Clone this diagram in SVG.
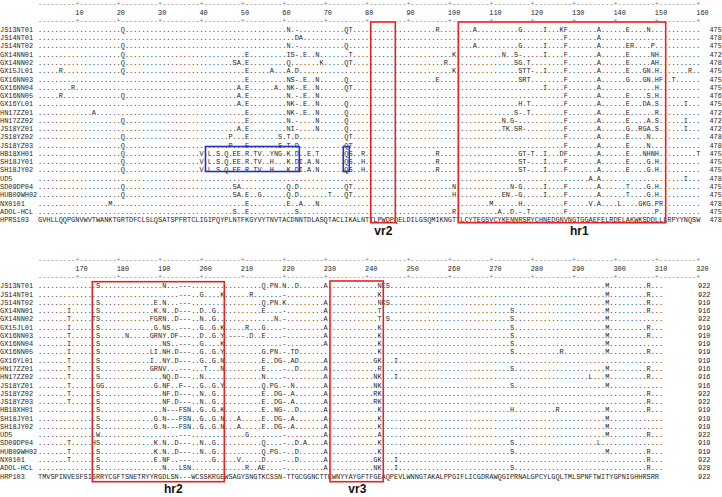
<svg xmlns="http://www.w3.org/2000/svg" width="722" height="497" viewBox="0 0 722 497">
<style>
.t{font-family:"Liberation Mono","DejaVu Sans Mono",monospace;font-size:7.3px;fill:#1e1e1e}
.ru{fill:#808080}
.rb{fill:none;stroke:#e8231f;stroke-width:1.6}
.bb{fill:none;stroke:#2430c8;stroke-width:1.6}
.lab{font-family:"Liberation Sans",Arial,sans-serif;font-weight:bold;font-size:12px;fill:#111;text-anchor:middle}
</style>
<rect width="722" height="497" fill="#fff"/>
<g id="top-block" class="t" transform="translate(38 0) scale(0.94521 1)">
<g id="top-ruler">
<text class="ru" y="6.2"><tspan x="0">---------+</tspan><tspan x="43.8">---------+</tspan><tspan x="87.6">---------+</tspan><tspan x="131.4">---------+</tspan><tspan x="175.2">---------+</tspan><tspan x="219">---------+</tspan><tspan x="262.8">---------+</tspan><tspan x="306.6">---------+</tspan><tspan x="350.4">---------+</tspan><tspan x="394.2">---------+</tspan><tspan x="438">---------+</tspan><tspan x="481.8">---------+</tspan><tspan x="525.6">---------+</tspan><tspan x="569.4">---------+</tspan><tspan x="613.2">---------+</tspan><tspan x="657">---------+</tspan></text>
<text y="14.7"><tspan x="39.42">10</tspan><tspan x="83.22">20</tspan><tspan x="127.02">30</tspan><tspan x="170.82">40</tspan><tspan x="214.62">50</tspan><tspan x="258.42">60</tspan><tspan x="302.22">70</tspan><tspan x="346.02">80</tspan><tspan x="389.82">90</tspan><tspan x="433.62">100</tspan><tspan x="477.42">110</tspan><tspan x="521.22">120</tspan><tspan x="565.02">130</tspan><tspan x="608.82">140</tspan><tspan x="652.62">150</tspan><tspan x="696.42">160</tspan></text>
<text class="ru" y="23.2"><tspan x="0">---------+</tspan><tspan x="43.8">---------+</tspan><tspan x="87.6">---------+</tspan><tspan x="131.4">---------+</tspan><tspan x="175.2">---------+</tspan><tspan x="219">---------+</tspan><tspan x="262.8">---------+</tspan><tspan x="306.6">---------+</tspan><tspan x="350.4">---------+</tspan><tspan x="394.2">---------+</tspan><tspan x="438">---------+</tspan><tspan x="481.8">---------+</tspan><tspan x="525.6">---------+</tspan><tspan x="569.4">---------+</tspan><tspan x="613.2">---------+</tspan><tspan x="657">---------+</tspan></text>
</g>
<g id="top-JS13NT01"><text x="-40.2" y="31.9">JS13NT01</text><text y="31.9"><tspan x="0">..........</tspan><tspan x="43.8">..........</tspan><tspan x="87.6">Q.........</tspan><tspan x="131.4">..........</tspan><tspan x="175.2">..........</tspan><tspan x="219">..........</tspan><tspan x="262.8">N.-.......</tspan><tspan x="306.6">....QT....</tspan><tspan x="350.4">..........</tspan><tspan x="394.2">......R...</tspan><tspan x="438">.....A....</tspan><tspan x="481.8">......G...</tspan><tspan x="525.6">..I...KF..</tspan><tspan x="569.4">.....A....</tspan><tspan x="613.2">..E....N..</tspan><tspan x="657">..........</tspan></text><text x="710.42" y="31.9">475</text></g>
<g id="top-JS14NT01"><text x="-40.2" y="40.17">JS14NT01</text><text y="40.17"><tspan x="0">..........</tspan><tspan x="43.8">..........</tspan><tspan x="87.6">..........</tspan><tspan x="131.4">..........</tspan><tspan x="175.2">..........</tspan><tspan x="219">..........</tspan><tspan x="262.8">..DA......</tspan><tspan x="306.6">..........</tspan><tspan x="350.4">..........</tspan><tspan x="394.2">..........</tspan><tspan x="438">..........</tspan><tspan x="481.8">..........</tspan><tspan x="525.6">.......F..</tspan><tspan x="569.4">.....A....</tspan><tspan x="613.2">..........</tspan><tspan x="657">..........</tspan></text><text x="710.42" y="40.17">478</text></g>
<g id="top-JS14NT02"><text x="-40.2" y="48.44">JS14NT02</text><text y="48.44"><tspan x="0">..........</tspan><tspan x="43.8">..........</tspan><tspan x="87.6">Q.........</tspan><tspan x="131.4">..........</tspan><tspan x="175.2">..........</tspan><tspan x="219">..........</tspan><tspan x="262.8">N.-.......</tspan><tspan x="306.6">....Q.....</tspan><tspan x="350.4">..........</tspan><tspan x="394.2">..........</tspan><tspan x="438">.....A....</tspan><tspan x="481.8">......G...</tspan><tspan x="525.6">..I....F..</tspan><tspan x="569.4">.....A....</tspan><tspan x="613.2">..ER....P.</tspan><tspan x="657">..........</tspan></text><text x="710.42" y="48.44">475</text></g>
<g id="top-GX14NN01"><text x="-40.2" y="56.71">GX14NN01</text><text y="56.71"><tspan x="0">..........</tspan><tspan x="43.8">..........</tspan><tspan x="87.6">Q.........</tspan><tspan x="131.4">..........</tspan><tspan x="175.2">..........</tspan><tspan x="219">E.........</tspan><tspan x="262.8">IS-.E..N..</tspan><tspan x="306.6">.....T....</tspan><tspan x="350.4">..........</tspan><tspan x="394.2">..........</tspan><tspan x="438">K.........</tspan><tspan x="481.8">..N..S-...</tspan><tspan x="525.6">..I....F..</tspan><tspan x="569.4">.....A....</tspan><tspan x="613.2">..E.....NH</tspan><tspan x="657">..........</tspan></text><text x="710.42" y="56.71">472</text></g>
<g id="top-GX14NN02"><text x="-40.2" y="64.98">GX14NN02</text><text y="64.98"><tspan x="0">..........</tspan><tspan x="43.8">..........</tspan><tspan x="87.6">Q.........</tspan><tspan x="131.4">..........</tspan><tspan x="175.2">.......SA.</tspan><tspan x="219">E.........</tspan><tspan x="262.8">Q.......K.</tspan><tspan x="306.6">....QT....</tspan><tspan x="350.4">..........</tspan><tspan x="394.2">........R.</tspan><tspan x="438">..........</tspan><tspan x="481.8">.....SG.T.</tspan><tspan x="525.6">.......F..</tspan><tspan x="569.4">.....A....</tspan><tspan x="613.2">..E.....AH</tspan><tspan x="657">..........</tspan></text><text x="710.42" y="64.98">478</text></g>
<g id="top-GX15JL01"><text x="-40.2" y="73.25">GX15JL01</text><text y="73.25"><tspan x="0">.....R....</tspan><tspan x="43.8">..........</tspan><tspan x="87.6">Q.........</tspan><tspan x="131.4">..........</tspan><tspan x="175.2">..........</tspan><tspan x="219">E.....A...</tspan><tspan x="262.8">A.D.......</tspan><tspan x="306.6">..........</tspan><tspan x="350.4">..........</tspan><tspan x="394.2">..........</tspan><tspan x="438">K.........</tspan><tspan x="481.8">......STT-</tspan><tspan x="525.6">..I....F..</tspan><tspan x="569.4">.....A....</tspan><tspan x="613.2">..E...GN.H</tspan><tspan x="657">.......R..</tspan></text><text x="710.42" y="73.25">475</text></g>
<g id="top-GX16NN03"><text x="-40.2" y="81.52">GX16NN03</text><text y="81.52"><tspan x="0">..........</tspan><tspan x="43.8">..........</tspan><tspan x="87.6">..........</tspan><tspan x="131.4">..........</tspan><tspan x="175.2">..........</tspan><tspan x="219">E.........</tspan><tspan x="262.8">NS-.E..N..</tspan><tspan x="306.6">....Q.....</tspan><tspan x="350.4">..........</tspan><tspan x="394.2">......E...</tspan><tspan x="438">..........</tspan><tspan x="481.8">......SRT.</tspan><tspan x="525.6">.......F..</tspan><tspan x="569.4">.....A....</tspan><tspan x="613.2">..G...GN.H</tspan><tspan x="657">F..T......</tspan></text><text x="710.42" y="81.52">475</text></g>
<g id="top-GX16NN04"><text x="-40.2" y="89.79">GX16NN04</text><text y="89.79"><tspan x="0">........R.</tspan><tspan x="43.8">..........</tspan><tspan x="87.6">..........</tspan><tspan x="131.4">..........</tspan><tspan x="175.2">........A.</tspan><tspan x="219">E......A..</tspan><tspan x="262.8">NK-.E..N..</tspan><tspan x="306.6">....QT....</tspan><tspan x="350.4">..........</tspan><tspan x="394.2">..........</tspan><tspan x="438">..........</tspan><tspan x="481.8">..........</tspan><tspan x="525.6">..I....F..</tspan><tspan x="569.4">.....A....</tspan><tspan x="613.2">.........H</tspan><tspan x="657">..........</tspan></text><text x="710.42" y="89.79">475</text></g>
<g id="top-GX16NN05"><text x="-40.2" y="98.06">GX16NN05</text><text y="98.06"><tspan x="0">.....R....</tspan><tspan x="43.8">..........</tspan><tspan x="87.6">Q.........</tspan><tspan x="131.4">..........</tspan><tspan x="175.2">........A.</tspan><tspan x="219">E.........</tspan><tspan x="262.8">N.-.E..N..</tspan><tspan x="306.6">..........</tspan><tspan x="350.4">..........</tspan><tspan x="394.2">..........</tspan><tspan x="438">..........</tspan><tspan x="481.8">..........</tspan><tspan x="525.6">.......F..</tspan><tspan x="569.4">.....A....</tspan><tspan x="613.2">..E....S.H</tspan><tspan x="657">..........</tspan></text><text x="710.42" y="98.06">476</text></g>
<g id="top-GX16YL01"><text x="-40.2" y="106.33">GX16YL01</text><text y="106.33"><tspan x="0">..........</tspan><tspan x="43.8">..........</tspan><tspan x="87.6">..........</tspan><tspan x="131.4">..........</tspan><tspan x="175.2">........A.</tspan><tspan x="219">E.........</tspan><tspan x="262.8">NK-.E..N..</tspan><tspan x="306.6">....Q.....</tspan><tspan x="350.4">..........</tspan><tspan x="394.2">..........</tspan><tspan x="438">..........</tspan><tspan x="481.8">......H.T.</tspan><tspan x="525.6">.......F..</tspan><tspan x="569.4">.....A....</tspan><tspan x="613.2">..E...DA.S</tspan><tspan x="657">......I...</tspan></text><text x="710.42" y="106.33">475</text></g>
<g id="top-HN17ZZ01"><text x="-40.2" y="114.6">HN17ZZ01</text><text y="114.6"><tspan x="0">..........</tspan><tspan x="43.8">...A......</tspan><tspan x="87.6">..........</tspan><tspan x="131.4">..........</tspan><tspan x="175.2">..........</tspan><tspan x="219">E.........</tspan><tspan x="262.8">NK-.E..N..</tspan><tspan x="306.6">....Q.....</tspan><tspan x="350.4">..........</tspan><tspan x="394.2">..........</tspan><tspan x="438">..........</tspan><tspan x="481.8">.....S-.T.</tspan><tspan x="525.6">.......F..</tspan><tspan x="569.4">.....A....</tspan><tspan x="613.2">..E......R</tspan><tspan x="657">..........</tspan></text><text x="710.42" y="114.6">472</text></g>
<g id="top-HN17ZZ02"><text x="-40.2" y="122.87">HN17ZZ02</text><text y="122.87"><tspan x="0">..........</tspan><tspan x="43.8">..........</tspan><tspan x="87.6">Q.........</tspan><tspan x="131.4">..........</tspan><tspan x="175.2">..........</tspan><tspan x="219">E.........</tspan><tspan x="262.8">N.-....N..</tspan><tspan x="306.6">....Q.....</tspan><tspan x="350.4">..........</tspan><tspan x="394.2">..........</tspan><tspan x="438">..........</tspan><tspan x="481.8">..N.G-....</tspan><tspan x="525.6">.......F..</tspan><tspan x="569.4">.....A....</tspan><tspan x="613.2">..E....A.S</tspan><tspan x="657">......I...</tspan></text><text x="710.42" y="122.87">472</text></g>
<g id="top-JS18YZ01"><text x="-40.2" y="131.14">JS18YZ01</text><text y="131.14"><tspan x="0">..........</tspan><tspan x="43.8">..........</tspan><tspan x="87.6">..........</tspan><tspan x="131.4">..........</tspan><tspan x="175.2">........A.</tspan><tspan x="219">E.........</tspan><tspan x="262.8">NI-....N..</tspan><tspan x="306.6">....Q.....</tspan><tspan x="350.4">..........</tspan><tspan x="394.2">..........</tspan><tspan x="438">..........</tspan><tspan x="481.8">..TK.SR-..</tspan><tspan x="525.6">.......F..</tspan><tspan x="569.4">.....A....</tspan><tspan x="613.2">..G..RGA.S</tspan><tspan x="657">......I...</tspan></text><text x="710.42" y="131.14">472</text></g>
<g id="top-JS18YZ02"><text x="-40.2" y="139.41">JS18YZ02</text><text y="139.41"><tspan x="0">..........</tspan><tspan x="43.8">..........</tspan><tspan x="87.6">Q.........</tspan><tspan x="131.4">..........</tspan><tspan x="175.2">......P...</tspan><tspan x="219">E.......S.</tspan><tspan x="262.8">T.D.......</tspan><tspan x="306.6">....QT....</tspan><tspan x="350.4">..........</tspan><tspan x="394.2">..........</tspan><tspan x="438">..........</tspan><tspan x="481.8">..........</tspan><tspan x="525.6">.......F..</tspan><tspan x="569.4">.....A....</tspan><tspan x="613.2">..E....N..</tspan><tspan x="657">..........</tspan></text><text x="710.42" y="139.41">478</text></g>
<g id="top-JS18YZ03"><text x="-40.2" y="147.68">JS18YZ03</text><text y="147.68"><tspan x="0">..........</tspan><tspan x="43.8">..........</tspan><tspan x="87.6">Q.........</tspan><tspan x="131.4">..........</tspan><tspan x="175.2">......P...</tspan><tspan x="219">E.......S.</tspan><tspan x="262.8">T.D.......</tspan><tspan x="306.6">....QT....</tspan><tspan x="350.4">..........</tspan><tspan x="394.2">..........</tspan><tspan x="438">..........</tspan><tspan x="481.8">..........</tspan><tspan x="525.6">.......F..</tspan><tspan x="569.4">.....A....</tspan><tspan x="613.2">..E....N..</tspan><tspan x="657">..........</tspan></text><text x="710.42" y="147.68">478</text></g>
<g id="top-HB18XH01"><text x="-40.2" y="155.95">HB18XH01</text><text y="155.95"><tspan x="0">..........</tspan><tspan x="43.8">..........</tspan><tspan x="87.6">Q.........</tspan><tspan x="131.4">.........V</tspan><tspan x="175.2">.L.S.Q.EE.</tspan><tspan x="219">R.TV..YNG.</tspan><tspan x="262.8">K.D..E.T..</tspan><tspan x="306.6">....QS..R.</tspan><tspan x="350.4">..........</tspan><tspan x="394.2">......R...</tspan><tspan x="438">..........</tspan><tspan x="481.8">......GT-T</tspan><tspan x="525.6">..I...DF..</tspan><tspan x="569.4">.....A....</tspan><tspan x="613.2">..E...NHNH</tspan><tspan x="657">.........T</tspan></text><text x="710.42" y="155.95">475</text></g>
<g id="top-SH18JY01"><text x="-40.2" y="164.22">SH18JY01</text><text y="164.22"><tspan x="0">..........</tspan><tspan x="43.8">..........</tspan><tspan x="87.6">Q.........</tspan><tspan x="131.4">.........V</tspan><tspan x="175.2">.L.S.Q.EE.</tspan><tspan x="219">R.TV..H...</tspan><tspan x="262.8">K.DI.A.N..</tspan><tspan x="306.6">....QS..H.</tspan><tspan x="350.4">..........</tspan><tspan x="394.2">......R...</tspan><tspan x="438">..........</tspan><tspan x="481.8">......ST-.</tspan><tspan x="525.6">..I....F..</tspan><tspan x="569.4">.....A....</tspan><tspan x="613.2">..E....G.H</tspan><tspan x="657">..........</tspan></text><text x="710.42" y="164.22">475</text></g>
<g id="top-SH18JY02"><text x="-40.2" y="172.49">SH18JY02</text><text y="172.49"><tspan x="0">..........</tspan><tspan x="43.8">..........</tspan><tspan x="87.6">Q.........</tspan><tspan x="131.4">.........V</tspan><tspan x="175.2">.L.S.Q.EE.</tspan><tspan x="219">R.TV..H...</tspan><tspan x="262.8">K.DI.A.N..</tspan><tspan x="306.6">....QS..H.</tspan><tspan x="350.4">..........</tspan><tspan x="394.2">......R...</tspan><tspan x="438">..........</tspan><tspan x="481.8">......ST-.</tspan><tspan x="525.6">..I....F..</tspan><tspan x="569.4">.....A....</tspan><tspan x="613.2">..E....G.H</tspan><tspan x="657">..........</tspan></text><text x="710.42" y="172.49">475</text></g>
<g id="top-UD5"><text x="-40.2" y="180.76">UD5</text><text y="180.76"><tspan x="0">..........</tspan><tspan x="43.8">..........</tspan><tspan x="87.6">..........</tspan><tspan x="131.4">..........</tspan><tspan x="175.2">..........</tspan><tspan x="219">..........</tspan><tspan x="262.8">..........</tspan><tspan x="306.6">..........</tspan><tspan x="350.4">..........</tspan><tspan x="394.2">..........</tspan><tspan x="438">..........</tspan><tspan x="481.8">..........</tspan><tspan x="525.6">..........</tspan><tspan x="569.4">...A.A....</tspan><tspan x="613.2">..........</tspan><tspan x="657">......I...</tspan></text><text x="710.42" y="180.76">478</text></g>
<g id="top-SD09DP04"><text x="-40.2" y="189.03">SD09DP04</text><text y="189.03"><tspan x="0">..........</tspan><tspan x="43.8">..........</tspan><tspan x="87.6">Q.........</tspan><tspan x="131.4">..........</tspan><tspan x="175.2">.......SA.</tspan><tspan x="219">..........</tspan><tspan x="262.8">Q.D.......</tspan><tspan x="306.6">....QT....</tspan><tspan x="350.4">..........</tspan><tspan x="394.2">..........</tspan><tspan x="438">N.........</tspan><tspan x="481.8">....N-G...</tspan><tspan x="525.6">..I....F..</tspan><tspan x="569.4">.....A....</tspan><tspan x="613.2">..T....G.H</tspan><tspan x="657">..........</tspan></text><text x="710.42" y="189.03">475</text></g>
<g id="top-HUB09WH02"><text x="-40.2" y="197.3">HUB09WH02</text><text y="197.3"><tspan x="0">..........</tspan><tspan x="43.8">..........</tspan><tspan x="87.6">Q.........</tspan><tspan x="131.4">..........</tspan><tspan x="175.2">.......SA.</tspan><tspan x="219">E..G......</tspan><tspan x="262.8">Q.D.......</tspan><tspan x="306.6">T...QT....</tspan><tspan x="350.4">..........</tspan><tspan x="394.2">..........</tspan><tspan x="438">H.........</tspan><tspan x="481.8">..EN.-G...</tspan><tspan x="525.6">..I....F..</tspan><tspan x="569.4">.....A....</tspan><tspan x="613.2">..T....G.H</tspan><tspan x="657">..........</tspan></text><text x="710.42" y="197.3">475</text></g>
<g id="top-NX0101"><text x="-40.2" y="205.57">NX0101</text><text y="205.57"><tspan x="0">..........</tspan><tspan x="43.8">.......M..</tspan><tspan x="87.6">..........</tspan><tspan x="131.4">..........</tspan><tspan x="175.2">..........</tspan><tspan x="219">E.........</tspan><tspan x="262.8">E..A...N..</tspan><tspan x="306.6">..........</tspan><tspan x="350.4">..........</tspan><tspan x="394.2">..........</tspan><tspan x="438">.........M</tspan><tspan x="481.8">......H...</tspan><tspan x="525.6">.......F..</tspan><tspan x="569.4">...V.A....</tspan><tspan x="613.2">L....GKG.P</tspan><tspan x="657">R.........</tspan></text><text x="710.42" y="205.57">478</text></g>
<g id="top-ADOL-HCL"><text x="-40.2" y="213.84">ADOL-HCL</text><text y="213.84"><tspan x="0">..........</tspan><tspan x="43.8">..........</tspan><tspan x="87.6">..........</tspan><tspan x="131.4">..........</tspan><tspan x="175.2">.......S..</tspan><tspan x="219">E.........</tspan><tspan x="262.8">..S.......</tspan><tspan x="306.6">..........</tspan><tspan x="350.4">..........</tspan><tspan x="394.2">..........</tspan><tspan x="438">R.........</tspan><tspan x="481.8">.A..D.-.T.</tspan><tspan x="525.6">.......F..</tspan><tspan x="569.4">..........</tspan><tspan x="613.2">.........P</tspan><tspan x="657">..........</tspan></text><text x="710.42" y="213.84">475</text></g>
<g id="top-HPRS103"><text x="-40.2" y="222.11">HPRS103</text><text y="222.11"><tspan x="0">GVHLLQQPGN</tspan><tspan x="43.8">VWVTWANKTG</tspan><tspan x="87.6">RTDFCLSLQS</tspan><tspan x="131.4">ATSPFRTCLI</tspan><tspan x="175.2">GIPQYPLNTF</tspan><tspan x="219">KGYVYTNVTA</tspan><tspan x="262.8">CDNNTDLASQ</tspan><tspan x="306.6">TACLIKALNT</tspan><tspan x="350.4">TLPWDPQELD</tspan><tspan x="394.2">ILGSQMIKNG</tspan><tspan x="438">TTLCYTEGSV</tspan><tspan x="481.8">CYKENNRSRY</tspan><tspan x="525.6">CHNEDGNVNG</tspan><tspan x="569.4">TGGAEFELRD</tspan><tspan x="613.2">ELAKWKSDDL</tspan><tspan x="657">LLRPYYNQSW</tspan></text><text x="710.42" y="222.11">478</text></g>
</g>
<g id="bottom-block" class="t" transform="translate(38 0) scale(0.94521 1)">
<g id="bottom-ruler">
<text class="ru" y="262.5"><tspan x="0">---------+</tspan><tspan x="43.8">---------+</tspan><tspan x="87.6">---------+</tspan><tspan x="131.4">---------+</tspan><tspan x="175.2">---------+</tspan><tspan x="219">---------+</tspan><tspan x="262.8">---------+</tspan><tspan x="306.6">---------+</tspan><tspan x="350.4">---------+</tspan><tspan x="394.2">---------+</tspan><tspan x="438">---------+</tspan><tspan x="481.8">---------+</tspan><tspan x="525.6">---------+</tspan><tspan x="569.4">---------+</tspan><tspan x="613.2">---------+</tspan><tspan x="657">---------+</tspan></text>
<text y="271"><tspan x="39.42">170</tspan><tspan x="83.22">180</tspan><tspan x="127.02">190</tspan><tspan x="170.82">200</tspan><tspan x="214.62">210</tspan><tspan x="258.42">220</tspan><tspan x="302.22">230</tspan><tspan x="346.02">240</tspan><tspan x="389.82">250</tspan><tspan x="433.62">260</tspan><tspan x="477.42">270</tspan><tspan x="521.22">280</tspan><tspan x="565.02">290</tspan><tspan x="608.82">300</tspan><tspan x="652.62">310</tspan><tspan x="696.42">320</tspan></text>
<text class="ru" y="279.5"><tspan x="0">---------+</tspan><tspan x="43.8">---------+</tspan><tspan x="87.6">---------+</tspan><tspan x="131.4">---------+</tspan><tspan x="175.2">---------+</tspan><tspan x="219">---------+</tspan><tspan x="262.8">---------+</tspan><tspan x="306.6">---------+</tspan><tspan x="350.4">---------+</tspan><tspan x="394.2">---------+</tspan><tspan x="438">---------+</tspan><tspan x="481.8">---------+</tspan><tspan x="525.6">---------+</tspan><tspan x="569.4">---------+</tspan><tspan x="613.2">---------+</tspan><tspan x="657">---------+</tspan></text>
</g>
<g id="bot-JS13NT01"><text x="-40.2" y="288.3">JS13NT01</text><text y="288.3"><tspan x="0">..........</tspan><tspan x="43.8">....S.....</tspan><tspan x="87.6">..........</tspan><tspan x="131.4">N...---...</tspan><tspan x="175.2">..........</tspan><tspan x="219">....Q.PN.N</tspan><tspan x="262.8">..D......A</tspan><tspan x="306.6">..........</tspan><tspan x="350.4">..NES.....</tspan><tspan x="394.2">..........</tspan><tspan x="438">..........</tspan><tspan x="481.8">..........</tspan><tspan x="525.6">..........</tspan><tspan x="569.4">.......M..</tspan><tspan x="613.2">.......R..</tspan><tspan x="657">.</tspan></text><text x="698.26" y="288.3">922</text></g>
<g id="bot-JS14NT01"><text x="-40.2" y="296.57">JS14NT01</text><text y="296.57"><tspan x="0">..........</tspan><tspan x="43.8">..........</tspan><tspan x="87.6">..........</tspan><tspan x="131.4">....---..G</tspan><tspan x="175.2">....K.....</tspan><tspan x="219">.R.......-</tspan><tspan x="262.8">..........</tspan><tspan x="306.6">..........</tspan><tspan x="350.4">..K.......</tspan><tspan x="394.2">..........</tspan><tspan x="438">..........</tspan><tspan x="481.8">..........</tspan><tspan x="525.6">..........</tspan><tspan x="569.4">.......M..</tspan><tspan x="613.2">.......R..</tspan><tspan x="657">.</tspan></text><text x="698.26" y="296.57">922</text></g>
<g id="bot-JS14NT02"><text x="-40.2" y="304.84">JS14NT02</text><text y="304.84"><tspan x="0">..........</tspan><tspan x="43.8">....S.....</tspan><tspan x="87.6">........E.</tspan><tspan x="131.4">N...---...</tspan><tspan x="175.2">..........</tspan><tspan x="219">....Q.PN.K</tspan><tspan x="262.8">.........A</tspan><tspan x="306.6">..........</tspan><tspan x="350.4">..NKS.....</tspan><tspan x="394.2">..........</tspan><tspan x="438">..........</tspan><tspan x="481.8">..........</tspan><tspan x="525.6">..........</tspan><tspan x="569.4">.......M..</tspan><tspan x="613.2">.......R..</tspan><tspan x="657">.</tspan></text><text x="698.26" y="304.84">919</text></g>
<g id="bot-GX14NN01"><text x="-40.2" y="313.11">GX14NN01</text><text y="313.11"><tspan x="0">.......I..</tspan><tspan x="43.8">....S.....</tspan><tspan x="87.6">........K.</tspan><tspan x="131.4">N..D---..D</tspan><tspan x="175.2">..G.......</tspan><tspan x="219">....E....-</tspan><tspan x="262.8">.........A</tspan><tspan x="306.6">..........</tspan><tspan x="350.4">..T.......</tspan><tspan x="394.2">..........</tspan><tspan x="438">..........</tspan><tspan x="481.8">....S.....</tspan><tspan x="525.6">..........</tspan><tspan x="569.4">.......M..</tspan><tspan x="613.2">.......R..</tspan><tspan x="657">.</tspan></text><text x="698.26" y="313.11">916</text></g>
<g id="bot-GX14NN02"><text x="-40.2" y="321.38">GX14NN02</text><text y="321.38"><tspan x="0">.......T..</tspan><tspan x="43.8">...TS.....</tspan><tspan x="87.6">.......FGR</tspan><tspan x="131.4">N..D---..N</tspan><tspan x="175.2">..G.......</tspan><tspan x="219">.......N.-</tspan><tspan x="262.8">.........A</tspan><tspan x="306.6">..........</tspan><tspan x="350.4">..T.S.....</tspan><tspan x="394.2">..........</tspan><tspan x="438">..........</tspan><tspan x="481.8">....S.....</tspan><tspan x="525.6">..........</tspan><tspan x="569.4">.......M..</tspan><tspan x="613.2">..........</tspan><tspan x="657">.</tspan></text><text x="698.26" y="321.38">922</text></g>
<g id="bot-GX15JL01"><text x="-40.2" y="329.65">GX15JL01</text><text y="329.65"><tspan x="0">.......I..</tspan><tspan x="43.8">....S.....</tspan><tspan x="87.6">........G.</tspan><tspan x="131.4">NS..---..G</tspan><tspan x="175.2">..G.K.....</tspan><tspan x="219">R...G....-</tspan><tspan x="262.8">.........A</tspan><tspan x="306.6">..........</tspan><tspan x="350.4">..K.......</tspan><tspan x="394.2">..........</tspan><tspan x="438">..........</tspan><tspan x="481.8">....S.....</tspan><tspan x="525.6">..........</tspan><tspan x="569.4">.......M..</tspan><tspan x="613.2">.......R..</tspan><tspan x="657">.</tspan></text><text x="698.26" y="329.65">919</text></g>
<g id="bot-GX16NN03"><text x="-40.2" y="337.92">GX16NN03</text><text y="337.92"><tspan x="0">.......T..</tspan><tspan x="43.8">....S.....</tspan><tspan x="87.6">.N.....GRN</tspan><tspan x="131.4">Y.DF---..D</tspan><tspan x="175.2">..G.Y.----</tspan><tspan x="219">.D..E....-</tspan><tspan x="262.8">.........A</tspan><tspan x="306.6">..........</tspan><tspan x="350.4">..K.......</tspan><tspan x="394.2">..........</tspan><tspan x="438">..........</tspan><tspan x="481.8">....S.....</tspan><tspan x="525.6">..........</tspan><tspan x="569.4">.......M..</tspan><tspan x="613.2">.......R..</tspan><tspan x="657">.</tspan></text><text x="698.26" y="337.92">910</text></g>
<g id="bot-GX16NN04"><text x="-40.2" y="346.19">GX16NN04</text><text y="346.19"><tspan x="0">.......I..</tspan><tspan x="43.8">....S.....</tspan><tspan x="87.6">..........</tspan><tspan x="131.4">NS..---..G</tspan><tspan x="175.2">....K.....</tspan><tspan x="219">.........-</tspan><tspan x="262.8">.........A</tspan><tspan x="306.6">..........</tspan><tspan x="350.4">..K.......</tspan><tspan x="394.2">..........</tspan><tspan x="438">..........</tspan><tspan x="481.8">....S.....</tspan><tspan x="525.6">..........</tspan><tspan x="569.4">.......M..</tspan><tspan x="613.2">..........</tspan><tspan x="657">.</tspan></text><text x="698.26" y="346.19">919</text></g>
<g id="bot-GX16NN05"><text x="-40.2" y="354.46">GX16NN05</text><text y="354.46"><tspan x="0">.......I..</tspan><tspan x="43.8">....S.....</tspan><tspan x="87.6">.......LI.</tspan><tspan x="131.4">NH.D---..G</tspan><tspan x="175.2">..G.Y.....</tspan><tspan x="219">....G.PN.-</tspan><tspan x="262.8">.TD.......</tspan><tspan x="306.6">..........</tspan><tspan x="350.4">..K.......</tspan><tspan x="394.2">..........</tspan><tspan x="438">..........</tspan><tspan x="481.8">....S.....</tspan><tspan x="525.6">......R...</tspan><tspan x="569.4">.......M..</tspan><tspan x="613.2">.......R..</tspan><tspan x="657">.</tspan></text><text x="698.26" y="354.46">919</text></g>
<g id="bot-GX16YL01"><text x="-40.2" y="362.73">GX16YL01</text><text y="362.73"><tspan x="0">.......T..</tspan><tspan x="43.8">....S.....</tspan><tspan x="87.6">.......I..</tspan><tspan x="131.4">NY.D---..G</tspan><tspan x="175.2">..G.N.....</tspan><tspan x="219">....E..DG-</tspan><tspan x="262.8">.AD......A</tspan><tspan x="306.6">..........</tspan><tspan x="350.4">.GK...I...</tspan><tspan x="394.2">..........</tspan><tspan x="438">..........</tspan><tspan x="481.8">..........</tspan><tspan x="525.6">..........</tspan><tspan x="569.4">..........</tspan><tspan x="613.2">..........</tspan><tspan x="657">.</tspan></text><text x="698.26" y="362.73">919</text></g>
<g id="bot-HN17ZZ01"><text x="-40.2" y="371">HN17ZZ01</text><text y="371"><tspan x="0">.......T..</tspan><tspan x="43.8">....S.....</tspan><tspan x="87.6">.......GRN</tspan><tspan x="131.4">V...---...</tspan><tspan x="175.2">T...N.....</tspan><tspan x="219">....E....-</tspan><tspan x="262.8">..D......A</tspan><tspan x="306.6">..........</tspan><tspan x="350.4">..R.......</tspan><tspan x="394.2">..........</tspan><tspan x="438">..........</tspan><tspan x="481.8">....S.....</tspan><tspan x="525.6">..........</tspan><tspan x="569.4">.......M..</tspan><tspan x="613.2">.......R..</tspan><tspan x="657">.</tspan></text><text x="698.26" y="371">916</text></g>
<g id="bot-HN17ZZ02"><text x="-40.2" y="379.27">HN17ZZ02</text><text y="379.27"><tspan x="0">.......T..</tspan><tspan x="43.8">....S.....</tspan><tspan x="87.6">..........</tspan><tspan x="131.4">NQ.D---..N</tspan><tspan x="175.2">..........</tspan><tspan x="219">....N....-</tspan><tspan x="262.8">.........A</tspan><tspan x="306.6">..........</tspan><tspan x="350.4">.NK...I...</tspan><tspan x="394.2">..........</tspan><tspan x="438">..........</tspan><tspan x="481.8">..........</tspan><tspan x="525.6">..........</tspan><tspan x="569.4">...L...M..</tspan><tspan x="613.2">.......R..</tspan><tspan x="657">.</tspan></text><text x="698.26" y="379.27">916</text></g>
<g id="bot-JS18YZ01"><text x="-40.2" y="387.54">JS18YZ01</text><text y="387.54"><tspan x="0">.......T..</tspan><tspan x="43.8">....GG....</tspan><tspan x="87.6">........G.</tspan><tspan x="131.4">NF..F--..G</tspan><tspan x="175.2">..G.Y.....</tspan><tspan x="219">....Q.PG.-</tspan><tspan x="262.8">.N.......A</tspan><tspan x="306.6">..........</tspan><tspan x="350.4">.NK.......</tspan><tspan x="394.2">..........</tspan><tspan x="438">..........</tspan><tspan x="481.8">....S.....</tspan><tspan x="525.6">..........</tspan><tspan x="569.4">.......M..</tspan><tspan x="613.2">..........</tspan><tspan x="657">.</tspan></text><text x="698.26" y="387.54">916</text></g>
<g id="bot-JS18YZ02"><text x="-40.2" y="395.81">JS18YZ02</text><text y="395.81"><tspan x="0">.......T..</tspan><tspan x="43.8">....S.....</tspan><tspan x="87.6">..........</tspan><tspan x="131.4">NF.D---..N</tspan><tspan x="175.2">..G.......</tspan><tspan x="219">....E..DG-</tspan><tspan x="262.8">.A.......A</tspan><tspan x="306.6">..........</tspan><tspan x="350.4">.RK.......</tspan><tspan x="394.2">..........</tspan><tspan x="438">..........</tspan><tspan x="481.8">..........</tspan><tspan x="525.6">..........</tspan><tspan x="569.4">..........</tspan><tspan x="613.2">.......R..</tspan><tspan x="657">.</tspan></text><text x="698.26" y="395.81">922</text></g>
<g id="bot-JS18YZ03"><text x="-40.2" y="404.08">JS18YZ03</text><text y="404.08"><tspan x="0">.......T..</tspan><tspan x="43.8">....S.....</tspan><tspan x="87.6">..........</tspan><tspan x="131.4">NF.D---..N</tspan><tspan x="175.2">..G.......</tspan><tspan x="219">....E..DG-</tspan><tspan x="262.8">.A.......A</tspan><tspan x="306.6">..........</tspan><tspan x="350.4">.RK.......</tspan><tspan x="394.2">..........</tspan><tspan x="438">..........</tspan><tspan x="481.8">..........</tspan><tspan x="525.6">..........</tspan><tspan x="569.4">..........</tspan><tspan x="613.2">.......R..</tspan><tspan x="657">.</tspan></text><text x="698.26" y="404.08">922</text></g>
<g id="bot-HB18XH01"><text x="-40.2" y="412.35">HB18XH01</text><text y="412.35"><tspan x="0">..........</tspan><tspan x="43.8">....S.....</tspan><tspan x="87.6">..........</tspan><tspan x="131.4">N---FSN..G</tspan><tspan x="175.2">..G.K.....</tspan><tspan x="219">....E..NG-</tspan><tspan x="262.8">..D......A</tspan><tspan x="306.6">..........</tspan><tspan x="350.4">..K.......</tspan><tspan x="394.2">..........</tspan><tspan x="438">..........</tspan><tspan x="481.8">....H.....</tspan><tspan x="525.6">.....R....</tspan><tspan x="569.4">.......M..</tspan><tspan x="613.2">.......R..</tspan><tspan x="657">.</tspan></text><text x="698.26" y="412.35">919</text></g>
<g id="bot-SH18JY01"><text x="-40.2" y="420.62">SH18JY01</text><text y="420.62"><tspan x="0">..........</tspan><tspan x="43.8">....S.....</tspan><tspan x="87.6">........G.</tspan><tspan x="131.4">N---FSN..G</tspan><tspan x="175.2">..G.N...A.</tspan><tspan x="219">....E..DG-</tspan><tspan x="262.8">.A.......A</tspan><tspan x="306.6">..........</tspan><tspan x="350.4">..K.......</tspan><tspan x="394.2">..........</tspan><tspan x="438">..........</tspan><tspan x="481.8">..........</tspan><tspan x="525.6">..........</tspan><tspan x="569.4">.......M..</tspan><tspan x="613.2">..........</tspan><tspan x="657">.</tspan></text><text x="698.26" y="420.62">919</text></g>
<g id="bot-SH18JY02"><text x="-40.2" y="428.89">SH18JY02</text><text y="428.89"><tspan x="0">..........</tspan><tspan x="43.8">....S.....</tspan><tspan x="87.6">........G.</tspan><tspan x="131.4">N---FSN..G</tspan><tspan x="175.2">..G.N...A.</tspan><tspan x="219">....E..DG-</tspan><tspan x="262.8">.A.......A</tspan><tspan x="306.6">..........</tspan><tspan x="350.4">..K.......</tspan><tspan x="394.2">..........</tspan><tspan x="438">..........</tspan><tspan x="481.8">..........</tspan><tspan x="525.6">..........</tspan><tspan x="569.4">.......M..</tspan><tspan x="613.2">..........</tspan><tspan x="657">.</tspan></text><text x="698.26" y="428.89">919</text></g>
<g id="bot-UD5"><text x="-40.2" y="437.16">UD5</text><text y="437.16"><tspan x="0">..........</tspan><tspan x="43.8">....W.....</tspan><tspan x="87.6">..........</tspan><tspan x="131.4">....---...</tspan><tspan x="175.2">..........</tspan><tspan x="219">G........-</tspan><tspan x="262.8">.........A</tspan><tspan x="306.6">..........</tspan><tspan x="350.4">..A.......</tspan><tspan x="394.2">..........</tspan><tspan x="438">..........</tspan><tspan x="481.8">..........</tspan><tspan x="525.6">..........</tspan><tspan x="569.4">.......M..</tspan><tspan x="613.2">.......R..</tspan><tspan x="657">.</tspan></text><text x="698.26" y="437.16">922</text></g>
<g id="bot-SD09DP04"><text x="-40.2" y="445.43">SD09DP04</text><text y="445.43"><tspan x="0">.......T..</tspan><tspan x="43.8">...HS.....</tspan><tspan x="87.6">........K.</tspan><tspan x="131.4">N..D---..N</tspan><tspan x="175.2">..G.......</tspan><tspan x="219">....Q....-</tspan><tspan x="262.8">..D.A....A</tspan><tspan x="306.6">..........</tspan><tspan x="350.4">..K.......</tspan><tspan x="394.2">..........</tspan><tspan x="438">..........</tspan><tspan x="481.8">....S.....</tspan><tspan x="525.6">..........</tspan><tspan x="569.4">.....L....</tspan><tspan x="613.2">..........</tspan><tspan x="657">.</tspan></text><text x="698.26" y="445.43">919</text></g>
<g id="bot-HUB09WH02"><text x="-40.2" y="453.7">HUB09WH02</text><text y="453.7"><tspan x="0">.......T..</tspan><tspan x="43.8">....S.....</tspan><tspan x="87.6">........K.</tspan><tspan x="131.4">N..D---..N</tspan><tspan x="175.2">..G.......</tspan><tspan x="219">....Q.PG.-</tspan><tspan x="262.8">..D......A</tspan><tspan x="306.6">..........</tspan><tspan x="350.4">..K.......</tspan><tspan x="394.2">..........</tspan><tspan x="438">..........</tspan><tspan x="481.8">....S.....</tspan><tspan x="525.6">..........</tspan><tspan x="569.4">.......M..</tspan><tspan x="613.2">.......R..</tspan><tspan x="657">.</tspan></text><text x="698.26" y="453.7">919</text></g>
<g id="bot-NX0101"><text x="-40.2" y="461.97">NX0101</text><text y="461.97"><tspan x="0">.......T..</tspan><tspan x="43.8">....S.....</tspan><tspan x="87.6">........E.</tspan><tspan x="131.4">NF..---...</tspan><tspan x="175.2">..G.....V.</tspan><tspan x="219">....D....-</tspan><tspan x="262.8">..D......A</tspan><tspan x="306.6">..........</tspan><tspan x="350.4">.GK...I...</tspan><tspan x="394.2">..........</tspan><tspan x="438">..........</tspan><tspan x="481.8">..........</tspan><tspan x="525.6">..........</tspan><tspan x="569.4">..........</tspan><tspan x="613.2">.......R..</tspan><tspan x="657">.</tspan></text><text x="698.26" y="461.97">922</text></g>
<g id="bot-ADOL-HCL"><text x="-40.2" y="470.24">ADOL-HCL</text><text y="470.24"><tspan x="0">..........</tspan><tspan x="43.8">....S.....</tspan><tspan x="87.6">..........</tspan><tspan x="131.4">N...LSN...</tspan><tspan x="175.2">..........</tspan><tspan x="219">R..AE....-</tspan><tspan x="262.8">.........A</tspan><tspan x="306.6">..........</tspan><tspan x="350.4">.NK...I...</tspan><tspan x="394.2">..........</tspan><tspan x="438">..........</tspan><tspan x="481.8">....S.....</tspan><tspan x="525.6">..........</tspan><tspan x="569.4">..........</tspan><tspan x="613.2">.......R..</tspan><tspan x="657">.</tspan></text><text x="698.26" y="470.24">928</text></g>
<g id="bot-HRP103"><text x="-40.2" y="478.51">HRP103</text><text y="478.51"><tspan x="0">TMVSPINVES</tspan><tspan x="43.8">FSISRRYCGF</tspan><tspan x="87.6">TSNETRYYRG</tspan><tspan x="131.4">DLSN---WCS</tspan><tspan x="175.2">SKRGEWSAGY</tspan><tspan x="219">SNGTKCSSN-</tspan><tspan x="262.8">TTGCGGNCTT</tspan><tspan x="306.6">EWNYYAYGFT</tspan><tspan x="350.4">FGEAQPEVLW</tspan><tspan x="394.2">NNGTAKALPP</tspan><tspan x="438">GIFLICGDRA</tspan><tspan x="481.8">WQGIPRNALG</tspan><tspan x="525.6">PCYLGQLTML</tspan><tspan x="569.4">SPNFTWITYG</tspan><tspan x="613.2">PNIGHHRSRR</tspan></text><text x="698.26" y="478.51">922</text></g>
</g>
<g id="regions">
<rect id="box-vr2" class="rb" x="370.7" y="22" width="24.6" height="200.7"/>
<rect id="box-hr1" class="rb" x="458.3" y="22" width="207.4" height="200.7"/>
<rect id="box-blue1" class="bb" x="205.5" y="146.5" width="93.8" height="25"/>
<rect id="box-blue2" class="bb" x="343.3" y="146.5" width="6" height="25"/>
<rect id="box-hr2" class="rb" x="92.3" y="281.7" width="132" height="200"/>
<rect id="box-vr3" class="rb" x="330" y="281" width="53.3" height="200.7"/>
</g>
<g id="region-labels">
<text class="lab" x="383.3" y="235.2">vr2</text>
<text class="lab" x="579.3" y="235.2">hr1</text>
<text class="lab" x="173.3" y="493">hr2</text>
<text class="lab" x="357.3" y="493">vr3</text>
</g>
</svg>
